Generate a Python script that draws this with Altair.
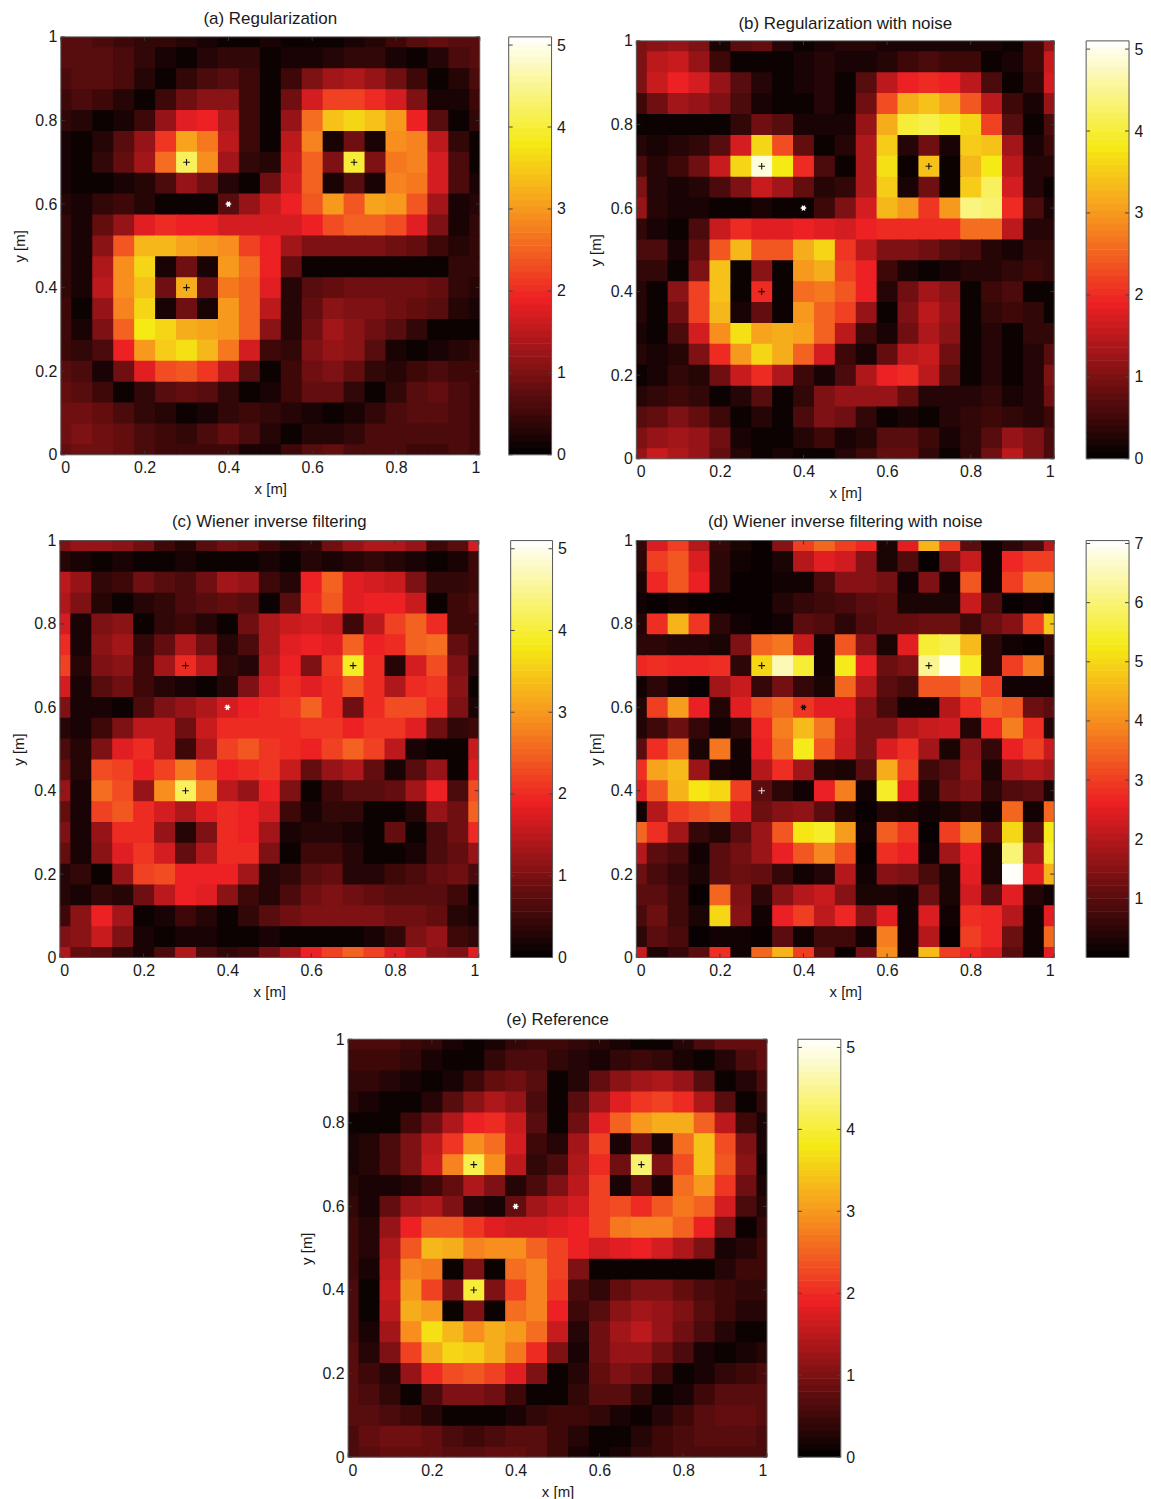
import altair as alt
import pandas as pd

x_nodes = [0,.05,.1,.15,.2,.25,.3,.35,.4,.45,.5,.55,.6,.65,.7,.75,.8,.85,.9,.95,1]
y_nodes = x_nodes[::-1]
x_ticks = [0,.2,.4,.6,.8,1]

# each row runs from x=0 to x=1; rows run from y=1 down to y=0
panel_a = [
[.7,.7,.6,.5,.4,.4,.3,.2,.1,.1,.2,.1,.1,.1,.2,.3,.5,.7,.8,.7,.7],
[.7,.7,.7,.6,.4,.2,.1,.3,.4,.4,.1,.2,.2,.3,.4,.4,.2,.1,.3,.6,.7],
[.6,.7,.7,.6,.3,.1,.4,.6,.7,.5,.1,.5,1.0,1.3,1.4,1.2,.9,.5,.1,.3,.6],
[.5,.6,.5,.3,.1,.5,.9,1.1,1.1,.5,.1,.9,1.7,2.2,2.2,2.0,1.7,1.0,.2,.2,.5],
[.4,.3,.1,.2,.5,1.2,1.8,1.9,1.4,.5,.1,1.2,2.6,3.4,3.6,3.4,3.0,1.9,.7,.1,.4],
[.2,.1,.3,.7,1.2,2.1,3.1,2.7,1.5,.5,.1,1.5,2.8,.2,.9,.2,2.9,2.8,1.5,.4,.1],
[.2,.1,.4,.8,1.3,2.6,4.2,2.9,1.3,.4,.3,1.6,2.5,1.0,4.0,1.0,2.7,2.8,1.7,.6,.1],
[.2,.1,.1,.2,.3,.6,1.2,.9,.3,.1,.9,1.7,2.5,.2,.7,.2,2.8,2.7,1.7,.6,.2],
[.3,.2,.4,.5,.3,.1,.1,.1,.7,1.2,1.6,1.9,2.4,3.0,2.4,3.1,3.0,2.4,1.3,.2,.3],
[.4,.2,.8,1.2,1.8,2.0,1.9,1.9,1.7,1.7,1.7,1.7,1.9,2.3,2.5,2.5,2.3,1.8,1.0,.2,.4],
[.4,.2,1.1,2.4,3.3,3.3,3.1,3.0,2.9,2.2,1.9,1.3,1.0,1.0,1.0,1.0,.9,.8,.5,.3,.4],
[.4,.2,1.4,2.9,3.6,.2,.9,.2,3.0,2.6,1.9,.8,.1,.1,.1,.1,.1,.1,.1,.4,.4],
[.4,.2,1.5,2.9,3.4,.9,3.2,.9,2.7,2.5,1.8,.3,.7,.8,.9,.9,.9,.9,.8,.4,.3],
[.5,.1,1.2,2.8,3.6,.2,.9,.2,3.0,2.5,1.5,.3,.8,1.1,1.0,1.0,.9,.8,.7,.3,.2],
[.5,.2,1.0,2.5,3.8,3.6,3.2,3.1,3.0,2.5,1.1,.3,.9,1.3,1.1,.9,.7,.4,.1,.1,.1],
[.5,.4,.6,1.9,3.0,3.5,3.7,3.3,2.7,1.7,.5,.4,1.0,1.2,1.1,.7,.2,.1,.2,.3,.4],
[.7,.6,.2,.9,1.8,2.3,2.4,2.1,1.5,.7,.1,.5,.9,1.0,.8,.4,.3,.5,.6,.5,.5],
[.8,.7,.5,.1,.4,.7,.8,.7,.4,.1,.2,.5,.8,.8,.4,.1,.4,.7,.8,.6,.5],
[.9,.9,.8,.6,.4,.3,.1,.2,.4,.5,.4,.3,.2,.1,.2,.4,.6,.7,.7,.6,.5],
[.9,1.0,.9,.8,.6,.5,.4,.6,.8,.6,.3,.1,.3,.3,.4,.6,.6,.6,.6,.6,.5],
[.8,.9,.9,.8,.6,.5,.5,.5,.5,.2,.2,.5,.7,.8,.6,.6,.6,.5,.5,.6,.5],
]
panel_b = [
[1.0,1.1,1.2,1.0,.2,.7,.8,.3,.1,.2,.3,.3,.2,.2,.2,.2,.2,.2,.1,.5,1.2],
[1.0,1.5,1.6,1.2,.5,.1,.1,.1,.2,.3,.2,.2,.3,.5,.6,.5,.5,.1,.2,.5,1.6],
[1.0,1.6,1.9,1.7,1.2,.7,.3,.1,.2,.3,.1,.7,1.5,1.9,2.0,1.9,1.5,.6,.1,.4,1.7],
[.5,.9,1.3,1.2,1.0,.6,.2,.1,.1,.3,.1,.9,2.3,3.2,3.4,3.1,2.4,1.5,.5,.2,1.2],
[.1,.1,.1,.1,.1,.4,.9,.7,.2,.2,.2,1.2,3.2,4.0,4.1,3.9,3.6,2.2,.7,.1,.6],
[.3,.2,.3,.4,.7,1.7,3.6,2.3,.8,.1,.3,1.4,3.5,.3,.9,.2,3.5,3.4,1.3,.2,.5],
[.6,.3,.5,.9,1.6,3.6,4.9,3.8,2.0,.6,.1,1.4,3.7,.1,3.4,.1,3.3,3.8,1.5,.3,.3],
[1.0,.3,.2,.3,.6,1.0,1.6,1.3,.8,.3,.4,1.4,3.5,.2,.9,.1,3.5,4.2,1.7,.3,.1],
[1.2,.3,.2,.2,.1,.1,.2,.1,.1,.5,1.0,1.7,3.3,3.0,2.1,3.0,4.4,4.3,2.0,.6,.2],
[.4,.2,.1,.6,1.6,2.0,1.8,1.8,1.9,1.8,1.7,1.9,2.0,2.0,2.0,2.0,2.6,2.6,1.5,.3,.3],
[.6,.6,.2,.8,2.4,3.3,2.4,2.4,3.2,3.6,2.1,1.5,1.0,1.0,.9,.7,.6,.3,.2,.4,.4],
[.4,.4,.1,1.0,3.4,.1,1.1,.1,3.0,3.2,2.2,1.9,.5,.2,.1,.2,.3,.3,.4,.5,.4],
[.3,.1,1.1,2.2,3.4,.1,2.0,.1,2.6,2.7,2.4,1.9,.3,.9,1.3,1.1,.1,.5,.6,.1,.1],
[.3,.1,.9,2.2,3.3,.2,.8,.1,3.0,2.5,2.2,1.2,.1,1.0,1.5,1.2,.1,.4,.5,.4,.1],
[.2,.1,.6,1.7,2.9,3.7,3.1,3.2,3.1,2.5,1.5,.5,.2,.9,1.4,1.1,.1,.3,.1,.4,.4],
[.3,.2,.3,1.0,2.0,3.0,3.6,3.2,2.5,1.7,.5,.2,.8,1.5,1.6,.9,.1,.3,.1,.3,.7],
[.1,.2,.4,.3,.9,1.6,2.0,1.4,.5,.2,.6,1.4,1.9,2.0,1.5,.7,.1,.3,.1,.3,1.0],
[.3,.4,.5,.4,.1,.3,.7,.1,.4,1.0,1.2,1.2,1.2,.8,.3,.3,.3,.4,.2,.3,.9],
[.7,.8,1.0,.8,.5,.1,.3,.1,.6,1.0,.9,.4,.1,.2,.1,.3,.4,.5,.4,.3,.5],
[1.0,1.2,1.3,1.2,.9,.2,.1,.1,.3,.5,.2,.3,.7,.7,.5,.2,.4,.7,1.2,1.0,.6],
[1.2,1.6,1.4,1.2,.8,.3,.1,.2,.1,.1,.3,.5,.8,.8,.4,.1,.4,.9,1.5,1.0,.6],
]
panel_c = [
[1.0,1.2,1.2,1.1,.9,.5,.3,.7,.9,.8,.5,.3,.4,.9,1.2,1.4,1.4,1.2,.5,.7,1.7],
[.3,.2,.1,.2,.1,.1,.2,.1,.1,.1,.2,.1,.3,.2,.3,.4,.3,.2,.1,.2,.5],
[1.5,1.2,.4,.5,.9,.7,.6,.9,1.3,1.2,.5,.3,1.9,2.5,1.8,1.7,1.6,1.0,.4,.4,.5],
[1.4,1.0,.3,.1,.3,.4,.6,.7,.8,.7,.1,.7,2.0,2.4,1.8,1.9,1.9,1.6,.1,.5,.6],
[1.7,.2,1.0,1.1,.1,.4,.5,.3,.1,.9,1.4,1.6,1.7,1.6,.5,1.5,2.2,2.5,2.0,.5,.5],
[2.0,.2,1.1,1.3,.4,.8,1.4,.9,.3,.6,1.4,1.8,1.9,1.8,2.5,1.9,2.0,2.5,2.6,.8,.5],
[2.2,.3,1.0,1.1,.5,1.3,2.0,1.5,.4,.3,1.5,1.9,1.0,2.1,3.9,2.0,.3,1.7,2.3,1.0,.3],
[1.7,.2,.7,.9,.5,.3,.2,.1,.3,1.0,1.7,2.0,1.8,2.0,2.4,2.0,1.4,2.0,2.1,1.1,.1],
[1.0,.2,.2,.1,.6,1.0,1.2,1.4,1.7,1.9,2.0,2.1,2.5,2.0,.9,2.0,2.3,2.3,2.0,1.0,.2],
[.3,.2,.5,1.0,1.5,1.5,.9,1.6,2.0,2.0,2.0,2.0,2.1,2.1,1.9,2.1,2.1,1.8,.9,.4,.5],
[.6,.3,1.0,1.8,2.0,1.5,.5,1.4,2.2,2.4,2.1,2.0,1.9,2.2,2.5,2.2,1.5,.2,.1,.1,1.6],
[.8,.3,2.3,2.2,1.9,2.2,2.7,2.2,1.9,2.0,2.1,1.6,.8,1.2,1.4,.8,.2,.7,1.2,.1,1.8],
[1.2,.2,2.6,2.3,1.2,2.9,4.2,2.8,1.5,1.2,1.9,1.0,.1,.5,.7,.7,.8,1.3,1.9,.6,2.3],
[.8,.2,2.2,2.4,2.0,1.7,1.4,1.8,2.0,1.9,1.7,.5,.2,.4,.4,.1,.1,.3,1.2,.9,2.5],
[1.0,.2,1.2,2.0,2.0,1.2,.3,1.0,2.0,1.9,1.3,.2,.3,.3,.2,.1,.8,.1,.6,.9,2.0],
[.8,.2,1.1,1.8,2.1,1.7,.8,1.4,2.0,2.0,1.0,.1,.5,.5,.3,.1,.1,.2,.6,.8,1.2],
[.3,.4,.1,1.2,2.2,2.3,1.9,1.9,1.9,1.3,.3,.4,.7,.8,.3,.3,.5,.6,.8,.9,.6],
[.3,.2,.4,.3,.9,1.5,1.9,1.8,1.1,.5,.3,.6,.9,1.0,.9,.8,.7,.7,.7,.5,.1],
[.5,1.1,1.9,1.3,.1,.2,.5,.3,.1,.4,.7,.9,1.0,1.0,1.0,1.0,.9,.9,.8,.3,.2],
[1.0,1.1,1.6,1.0,.2,.1,.2,.2,.1,.1,.2,.1,.1,.1,.1,.2,.4,1.0,1.2,.5,.4],
[1.4,.8,.7,.4,.2,.6,1.4,.6,.4,.5,.9,1.3,1.9,2.2,2.5,2.2,1.8,1.5,1.1,1.0,1.8],
]
panel_d = [
[.6,2.4,3.0,2.0,.6,.3,.1,1.5,3.0,3.5,3.0,2.7,.3,2.5,4.5,3.0,1.0,.2,.5,.8,2.0],
[.5,3.0,3.3,2.4,.5,.2,.1,.3,2.0,2.5,2.3,1.5,.3,.9,.1,1.4,2.2,.2,2.7,3.0,3.0],
[.3,2.7,3.3,2.6,.5,.1,.1,.2,.2,.8,1.5,1.5,1.3,.2,1.4,.2,3.3,.2,3.0,3.8,3.8],
[.2,.1,.2,.1,.1,.1,.1,.4,.6,.7,.8,1.0,1.1,.3,.3,.3,2.2,.9,.1,.2,.1],
[.4,2.8,4.5,2.9,.5,.2,.1,.2,1.0,.9,.5,.9,1.1,1.1,1.2,1.2,.7,1.2,1.5,3.0,4.8],
[.5,.5,.4,.4,.3,1.4,3.5,3.7,2.2,.2,3.3,1.5,.3,2.5,5.5,5.7,4.6,.5,.2,.1,.6],
[2.7,2.8,2.7,2.7,2.8,.5,5.0,6.5,5.5,.2,5.3,2.6,1.2,1.4,6.2,7.0,5.4,.5,3.0,3.8,.4],
[.2,.5,.2,.1,1.8,2.2,.6,1.3,.6,.3,3.5,2.0,1.0,.8,3.3,3.3,3.7,3.0,.2,.2,.2],
[.4,3.0,4.2,2.6,.4,2.5,3.2,3.5,2.9,2.5,2.5,1.5,.8,.2,.2,2.0,2.8,3.5,3.3,1.2,1.0],
[.4,.7,1.2,.6,.2,.5,2.7,3.8,4.6,3.7,2.3,1.4,1.4,2.0,2.2,2.3,.4,2.7,3.8,2.8,.4],
[1.0,2.8,3.5,.3,3.7,.2,2.6,3.6,5.3,3.3,2.2,1.4,2.4,2.8,1.8,.3,1.5,.6,2.6,3.0,2.2],
[2.8,4.3,4.6,1.7,.3,.2,2.0,2.8,1.8,.4,.3,1.0,4.4,3.0,.7,1.0,1.6,.3,1.8,2.0,1.8],
[2.5,3.3,4.5,5.2,5.0,3.0,1.0,.5,.2,2.6,3.8,.2,5.4,2.5,.4,1.2,1.4,.5,.9,1.0,.3],
[.2,2.0,3.0,3.2,3.4,2.4,1.2,1.5,1.6,1.0,.4,.1,.4,.3,.2,.3,.5,.2,3.5,.2,3.5],
[3.5,2.8,1.8,.6,.4,1.0,1.7,3.3,5.2,5.4,4.2,.2,3.4,2.9,.1,3.0,3.8,1.0,5.0,1.0,5.3],
[2.0,1.0,.8,.2,1.0,1.3,1.7,2.6,3.3,3.9,3.2,.1,2.8,2.6,.2,1.8,2.6,.3,6.0,1.8,5.5],
[1.2,.8,.6,.3,1.0,1.2,1.1,.6,.2,.4,2.0,.2,1.5,1.4,.8,.3,2.5,.3,7.0,2.5,4.5],
[1.0,1.0,.7,.1,3.5,1.4,.5,1.5,2.0,2.2,1.5,.3,.3,.2,1.2,.3,2.3,1.0,2.5,.4,.2],
[.8,1.2,.7,.3,5.0,1.5,.2,2.6,3.0,2.1,2.7,1.5,2.5,.2,2.4,.2,2.8,2.7,2.0,.2,2.5],
[.5,1.0,.8,.1,.2,.2,.1,1.0,.2,.7,.7,.2,3.8,.2,2.0,.1,3.0,2.7,1.2,.2,3.5],
[2.2,.3,.6,1.0,2.8,.2,3.5,4.5,3.0,1.0,.1,1.3,4.0,.2,4.6,3.0,2.7,2.4,1.0,.2,2.5],
]
panel_e = [
[.6,.6,.6,.5,.4,.2,.1,.2,.4,.5,.5,.4,.3,.2,.1,.1,.3,.6,.8,.8,.8],
[.5,.5,.5,.4,.2,.1,.1,.4,.6,.6,.4,.3,.2,.4,.5,.4,.2,.1,.3,.6,.8],
[.4,.4,.3,.2,.1,.2,.5,.8,.9,.7,.1,.3,.8,1.1,1.3,1.4,1.2,.7,.1,.3,.6],
[.3,.2,.1,.1,.3,.7,1.1,1.4,1.2,.6,.1,.7,1.3,1.8,2.1,2.2,2.0,1.4,.7,.1,.4],
[.1,.1,.1,.5,.9,1.4,1.9,2.0,1.6,.7,.1,.9,1.8,2.5,3.0,3.2,3.2,2.5,1.5,.5,.2],
[.2,.3,.6,1.0,1.5,2.1,2.9,2.6,1.7,.5,.3,1.3,2.2,.2,.9,.2,2.6,3.4,2.3,1.0,.2],
[.2,.3,.6,1.0,1.6,2.8,4.1,2.9,1.5,.4,.6,1.4,2.0,.9,4.3,1.0,2.3,3.4,2.4,1.1,.1],
[.3,.2,.2,.3,.5,.8,1.4,1.0,.3,.6,1.0,1.5,2.2,.2,.8,.2,2.6,3.0,2.1,.9,.2],
[.4,.2,.8,1.3,1.4,1.0,.3,.2,.8,1.3,1.5,1.7,2.2,2.3,2.0,2.4,2.7,2.5,1.7,.6,.3],
[.5,.3,1.2,1.9,2.4,2.4,2.1,1.8,1.7,1.7,1.8,1.9,2.2,2.7,2.8,2.8,2.5,1.9,1.0,.1,.4],
[.5,.3,1.4,2.4,3.3,3.2,2.8,2.9,2.9,2.5,2.2,1.9,1.7,1.8,1.9,1.7,1.4,1.0,.2,.3,.5],
[.5,.2,1.5,2.8,2.7,.1,1.0,.1,2.6,2.8,2.2,1.0,.1,.1,.1,.1,.1,.1,.3,.5,.5],
[.6,.1,1.6,3.0,2.2,1.0,4.0,1.0,2.2,2.8,2.1,.6,.4,.8,1.0,1.0,.8,.6,.5,.4,.4],
[.6,.1,1.5,3.2,3.0,.1,1.0,.1,2.6,2.8,1.9,.5,.7,1.1,1.3,1.2,1.0,.7,.5,.3,.3],
[.6,.2,1.3,2.9,3.7,3.3,2.9,3.2,3.0,2.6,1.6,.3,.9,1.3,1.5,1.2,.9,.6,.3,.1,.1],
[.7,.3,1.0,2.2,3.2,3.6,3.5,3.2,2.7,2.0,1.0,.2,.9,1.2,1.2,.9,.6,.2,.1,.2,.3],
[.7,.5,.3,1.2,2.0,2.3,2.4,2.2,1.8,1.0,.1,.3,.8,1.0,.9,.5,.1,.2,.4,.5,.6],
[.7,.6,.4,.1,.6,1.0,1.0,.9,.5,.1,.1,.4,.7,.7,.4,.1,.2,.5,.7,.7,.7],
[.7,.7,.6,.5,.3,.1,.1,.1,.2,.4,.5,.5,.4,.2,.1,.3,.5,.7,.8,.8,.7],
[.6,.8,.9,.9,.8,.6,.5,.6,.7,.7,.5,.3,.1,.1,.3,.5,.6,.7,.7,.7,.6],
[.6,.7,.8,.8,.8,.7,.7,.8,.8,.7,.5,.2,.1,.2,.4,.5,.6,.6,.6,.6,.6],
]

source_x = [.3, .7, .3]
source_y = [.7, .7, .4]
target_x = [.4]
target_y = [.6]

cell = 0.05
seam = 0.003
PLUS = "M-1,0L1,0M0,-1L0,1"
STAR = "M-1,0L1,0M-.5,-.87L.5,.87M-.5,.87L.5,-.87"
FONT = "Liberation Sans"
TXT = "#1a1a1a"
FRAME = "#555555"


def colors(top):
    k = top / 5.1
    return alt.Scale(domain=[0, 1.9 * k, 2.95 * k, 3.8 * k, top],
                     range=["#000000", "#ed2024", "#f7941e", "#f5ea14", "#ffffff"],
                     interpolate="rgb", clamp=True)


def table(rows):
    recs = []
    for yv, row in zip(y_nodes, rows):
        assert len(row) == 21
        for xv, v in zip(x_nodes, row):
            recs.append(dict(x0=xv - cell / 2, x1=xv + cell / 2 + seam,
                             y0=yv - cell / 2 - seam, y1=yv + cell / 2, v=v))
    return pd.DataFrame(recs)


def pos_axis(title, pad_label, pad_title):
    return alt.Axis(values=x_ticks, format="~g", title=title, grid=False, ticks=False, domain=False,
                    labelFontSize=16, titleFontSize=15, labelPadding=pad_label, titlePadding=pad_title,
                    labelColor=TXT, titleColor=TXT, titleFontWeight="normal", labelFont=FONT, titleFont=FONT)


def frame(w, h):
    return alt.Chart(pd.DataFrame({"a": [0]})).mark_rect(filled=False, stroke=FRAME, strokeWidth=1).encode(
        x=alt.value(0), x2=alt.value(w), y=alt.value(0), y2=alt.value(h))


def panel(rows, title, w, h, top, title_off, title_size, plus_colors, star_color):
    xs = alt.Scale(domain=[0, 1], nice=False)
    ys = alt.Scale(domain=[0, 1], nice=False)
    xa = pos_axis("x [m]", 5, 6)
    ya = pos_axis("y [m]", 4, 7)
    heat = alt.Chart(table(rows)).mark_rect(clip=True, stroke=None).encode(
        x=alt.X("x0:Q", scale=xs, axis=xa),
        x2="x1:Q",
        y=alt.Y("y0:Q", scale=ys, axis=ya),
        y2="y1:Q",
        color=alt.Color("v:Q", scale=colors(top), legend=None),
    )
    tick_df = pd.DataFrame({"t": x_ticks})
    layers = [heat]
    for pos in (0, h):
        layers.append(alt.Chart(tick_df).mark_rule(color="#333333", strokeWidth=1).encode(
            x=alt.X("t:Q", scale=xs, axis=xa),
            y=alt.value(pos), y2=alt.value(pos + (4 if pos == 0 else -4))))
    for pos in (0, w):
        layers.append(alt.Chart(tick_df).mark_rule(color="#333333", strokeWidth=1).encode(
            y=alt.Y("t:Q", scale=ys, axis=ya),
            x=alt.value(pos), x2=alt.value(pos + (4 if pos == 0 else -4))))
    plus_df = pd.DataFrame({"x": source_x, "y": source_y, "c": plus_colors})
    layers.append(alt.Chart(plus_df).mark_point(shape=PLUS, filled=False, size=44, strokeWidth=1.1, opacity=1).encode(
        x=alt.X("x:Q", scale=xs, axis=xa), y=alt.Y("y:Q", scale=ys, axis=ya),
        stroke=alt.Stroke("c:N", scale=None)))
    star_df = pd.DataFrame({"x": target_x, "y": target_y})
    layers.append(alt.Chart(star_df).mark_point(shape=STAR, filled=False, size=32, strokeWidth=1.5, opacity=1, color=star_color).encode(
        x=alt.X("x:Q", scale=xs, axis=xa), y=alt.Y("y:Q", scale=ys, axis=ya)))
    layers.append(frame(w, h))
    return alt.layer(*layers).properties(
        width=w, height=h,
        title=alt.TitleParams(title, fontSize=title_size, font=FONT, fontWeight="normal", color=TXT,
                              anchor="middle", offset=title_off))


def colorbar(w, h, top, ticks):
    n = 64
    step = top / n
    df = pd.DataFrame([dict(a=i * step, b=(i + 1) * step + step * .1, v=(i + .5) * step) for i in range(n)])
    ys = alt.Scale(domain=[0, top], nice=False)
    ya = alt.Axis(values=ticks, orient="right", format="~g", title=None, grid=False, ticks=False, domain=False,
                  labelFontSize=16, labelPadding=5, labelColor=TXT, labelFont=FONT)
    bar = alt.Chart(df).mark_rect(stroke=None, clip=True).encode(
        y=alt.Y("a:Q", scale=ys, axis=ya),
        y2="b:Q",
        color=alt.Color("v:Q", scale=colors(top), legend=None),
    )
    tdf = pd.DataFrame({"t": ticks})
    layers = [bar]
    for pos in (0, w):
        layers.append(alt.Chart(tdf).mark_rule(color="#444444", strokeWidth=1).encode(
            y=alt.Y("t:Q", scale=ys, axis=ya),
            x=alt.value(pos), x2=alt.value(pos + (4 if pos == 0 else -4))))
    layers.append(frame(w, h))
    return alt.layer(*layers).properties(width=w, height=h)


def spacer(w, h):
    return alt.Chart(pd.DataFrame({"a": [0]})).mark_point(opacity=0).properties(width=w, height=h, view=alt.ViewConfig(stroke=None))


BLACK, WHITE = "#111111", "#ffffff"
k = [BLACK, BLACK, BLACK]
a = panel(panel_a, "(a) Regularization", 420, 419, 5.1, 1, 17, k, WHITE)
b = panel(panel_b, "(b) Regularization with noise", 419, 419, 5.1, 0, 17, k, WHITE)
c = panel(panel_c, "(c) Wiener inverse filtering", 420, 418, 5.1, 2, 16.8, k, WHITE)
d = panel(panel_d, "(d) Wiener inverse filtering with noise", 419, 418, 7.05, 2, 16.8, [BLACK, BLACK, "#dddddd"], BLACK)
e = panel(panel_e, "(e) Reference", 420, 419, 5.1, 2, 16.8, k, WHITE)

cb5 = [0, 1, 2, 3, 4, 5]
cb7 = [1, 2, 3, 4, 5, 6, 7]

row1 = alt.hconcat(
    spacer(53, 4), a, spacer(29, 4), colorbar(43, 419, 5.1, cb5), spacer(85, 4),
    alt.vconcat(spacer(419, 4), b, spacing=0, bounds="flush").resolve_scale(color="independent"),
    spacer(451, 4),
    alt.vconcat(spacer(43, 4), colorbar(43, 419, 5.1, cb5), spacing=0, bounds="flush").resolve_scale(color="independent"),
    spacing=0, bounds="flush").resolve_scale(color="independent")
row2 = alt.hconcat(
    spacer(52, 4), c, spacer(32, 4), colorbar(42, 418, 5.1, cb5), spacer(84, 4), d, spacer(32, 4),
    colorbar(43, 418, 7.05, cb7),
    spacing=0, bounds="flush").resolve_scale(color="independent")
row3 = alt.hconcat(
    spacer(341, 4), e, spacer(31, 4), colorbar(43, 419, 5.1, cb5),
    spacing=0, bounds="flush").resolve_scale(color="independent")

chart = alt.vconcat(row1, row2, row3, spacing=13).resolve_scale(color="independent").properties(
    padding=0, background="white"
).configure_view(stroke=None)

chart.save("out.html", embed_options={"renderer": "svg", "actions": False})
